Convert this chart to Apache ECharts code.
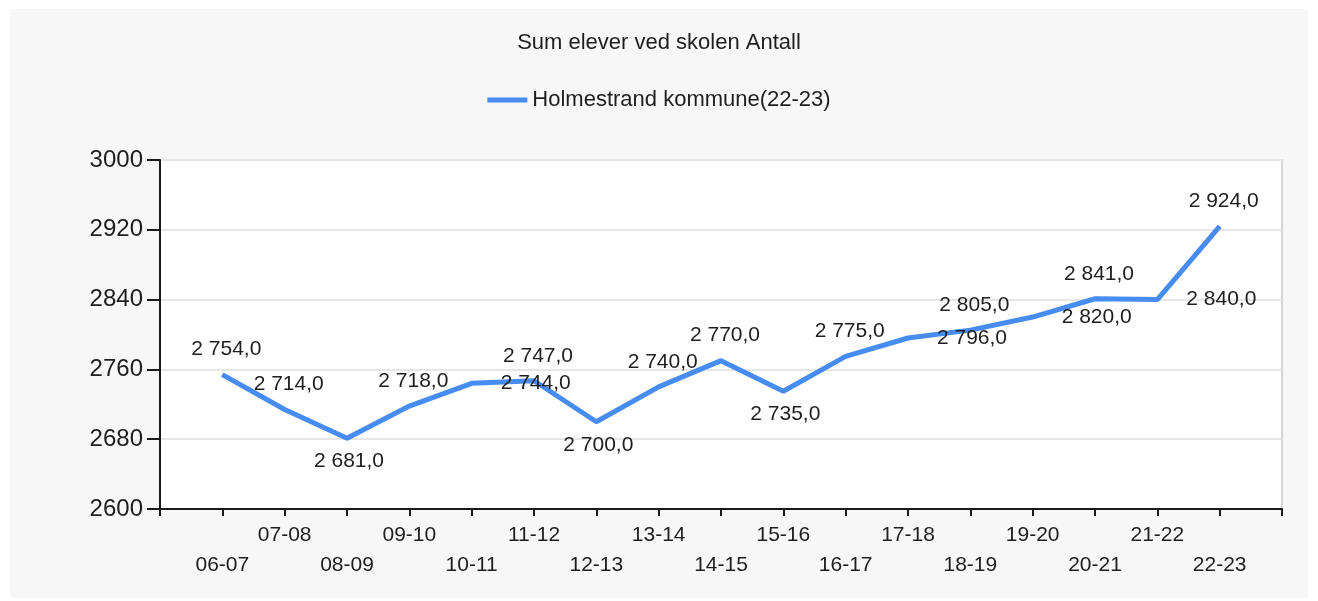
<!DOCTYPE html>
<html>
<head>
<meta charset="utf-8">
<title>Sum elever ved skolen Antall</title>
<script src="https://cdn.jsdelivr.net/npm/echarts@6/dist/echarts.min.js"></script>
<style>
  html, body { margin: 0; padding: 0; background: #fff; }
  #panel { position: absolute; left: 10px; top: 9px; width: 1298px; height: 589px; background: #f7f7f7; }
  #main { position: absolute; left: 0; top: 0; width: 1318px; height: 601px; }
</style>
</head>
<body>
<div id="panel"></div>
<div id="main"></div>
<script>
// skoleår
const seasons = ['06-07', '07-08', '08-09', '09-10', '10-11', '11-12', '12-13', '13-14', '14-15',
  '15-16', '16-17', '17-18', '18-19', '19-20', '20-21', '21-22', '22-23']
// Holmestrand kommune(22-23)
const pupils = [2754, 2714, 2681, 2718, 2744, 2747, 2700, 2740, 2770, 2735, 2775, 2796, 2805, 2820, 2841, 2840, 2924]
const yTicks = { min: 2600, max: 3000, step: 80 }

const lineColor = '#478cf0'
const textColor = '#1e1e1e'

// hvor etikettene står (som i originalen)
const labelsBelow = [2, 6, 9]
const labelsShifted = [4, 11, 13, 15]

function fmt(v) {
  const s = v.toFixed(1).replace('.', ',')
  return s.replace(/^(\d)(\d{3})/, '$1 $2')
}

function labelFor(i) {
  if (labelsShifted.includes(i)) {
    return { position: 'inside', offset: [64, 0] }
  }
  if (labelsBelow.includes(i)) {
    return { position: 'bottom', distance: 12, offset: [2, 0] }
  }
  return { position: 'top', distance: 14, offset: [4, 0] }
}

// tomme kategorier i hver ende så punktene står på tickene
const xData = ['', ...seasons, ' ']

const chart = echarts.init(document.getElementById('main'))

chart.setOption({
  backgroundColor: 'transparent',
  animation: false,
  textStyle: { fontFamily: 'Liberation Sans, Arial, sans-serif' },
  title: {
    text: 'Sum elever ved skolen Antall',
    left: 'center',
    top: 27,
    textStyle: { fontSize: 22, fontWeight: 'normal', color: textColor }
  },
  legend: {
    top: 84,
    left: 'center',
    icon: 'rect',
    itemWidth: 40,
    itemHeight: 5,
    itemGap: 10,
    textStyle: { fontSize: 22, color: textColor },
    data: ['Holmestrand kommune(22-23)']
  },
  grid: {
    left: 160,
    right: 36,
    top: 160,
    bottom: 92,
    show: true,
    backgroundColor: '#fff',
    borderColor: '#d6d6d6',
    borderWidth: 2
  },
  xAxis: {
    type: 'category',
    boundaryGap: false,
    data: xData,
    axisLine: { lineStyle: { color: '#1a1a1a', width: 2 } },
    axisTick: { show: true, interval: 0, length: 7, lineStyle: { color: '#1a1a1a', width: 2 } },
    axisLabel: {
      interval: 0,
      fontSize: 21,
      lineHeight: 30,
      margin: 11,
      color: textColor,
      formatter(value, index) {
        return index % 2 === 1 ? '\n' + value : value
      }
    },
    splitLine: { show: false }
  },
  yAxis: {
    type: 'value',
    min: yTicks.min,
    max: yTicks.max,
    interval: yTicks.step,
    axisLine: { show: true, lineStyle: { color: '#1a1a1a', width: 2 } },
    axisTick: { show: true, length: 13, lineStyle: { color: '#1a1a1a', width: 2 } },
    axisLabel: { fontSize: 24, margin: 17, color: textColor, formatter: v => String(v) },
    splitLine: { show: true, lineStyle: { color: '#e6e6e6', width: 2 } }
  },
  series: [
    {
      name: 'Holmestrand kommune(22-23)',
      type: 'line',
      symbol: 'circle',
      symbolSize: 1,
      showSymbol: true,
      itemStyle: { color: lineColor },
      lineStyle: { color: lineColor, width: 5 },
      label: {
        show: true,
        fontSize: 21,
        color: textColor,
        formatter: p => fmt(p.value[1])
      },
      data: pupils.map((v, i) => ({
        value: [seasons[i], v],
        label: labelFor(i)
      }))
    }
  ]
})
</script>
</body>
</html>
